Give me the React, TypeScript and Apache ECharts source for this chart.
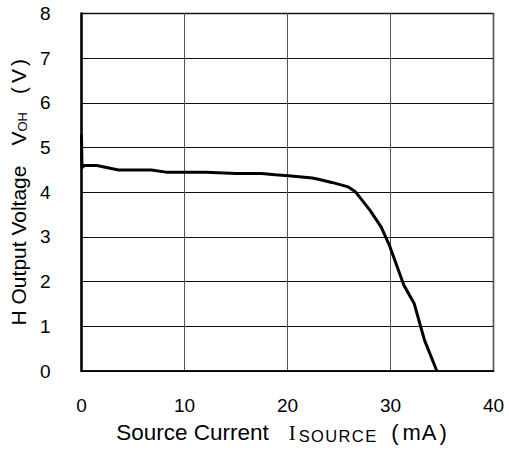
import React, { useEffect, useRef } from "react";
import * as echarts from "echarts";

const sourceCurrent = [0, 0.05, 0.3, 1.5, 3.6, 6.8, 8.2, 12.1, 15, 17.5, 18.8, 20.1, 22.4, 23, 24.3, 25.9, 26.6, 28.0, 29.1, 29.9, 31.3, 32.3, 33.3, 34.5];
const outputVoltage = [5.3, 4.55, 4.6, 4.6, 4.5, 4.5, 4.45, 4.45, 4.42, 4.42, 4.39, 4.37, 4.32, 4.29, 4.22, 4.12, 4.01, 3.6, 3.22, 2.81, 1.92, 1.51, 0.69, 0];
const xTicks = [0, 10, 20, 30, 40];
const yTicks = [0, 1, 2, 3, 4, 5, 6, 7, 8];

const HS = "\u200A";

export default function App() {
  const ref = useRef<HTMLDivElement>(null);
  useEffect(() => {
    if (!ref.current) return;
    const chart = echarts.init(ref.current, null, { renderer: "svg" });
    const font = "Liberation Sans, Arial, sans-serif";
    chart.setOption({
      animation: false,
      backgroundColor: "#fff",
      grid: {
        left: 78,
        right: 15.5,
        top: 13.5,
        bottom: 83,
        show: true,
        borderColor: "#222",
        borderWidth: 1.5,
      },
      xAxis: {
        type: "value",
        min: xTicks[0],
        max: xTicks[xTicks.length - 1],
        interval: 10,
        axisLine: { show: true, lineStyle: { color: "#000", width: 1.5 } },
        axisTick: { show: false },
        splitLine: { show: true, lineStyle: { color: "#555", width: 1 } },
        axisLabel: { color: "#000", fontSize: 19, fontFamily: font, margin: 25 },
        name: `{a|Source Current}{b|I}{c|${["S", "O", "U", "R", "C", "E"].join(HS)}}{p1|(}{m|m}{n|A}{p2|)}`,
        nameLocation: "middle",
        nameGap: 50,
        nameTextStyle: {
          color: "#000",
          fontFamily: font,
          padding: [0, 12, 0, 0],
          rich: {
            a: { fontSize: 22.5, fontFamily: font, color: "#000" },
            b: { fontSize: 21, fontFamily: "Liberation Serif, serif", color: "#000", padding: [0, 0, 0, 20] },
            c: { fontSize: 16.5, fontFamily: font, color: "#000", verticalAlign: "bottom", padding: [0, 0, 0, 3] },
            p1: { fontSize: 22, fontFamily: font, color: "#000", padding: [0, 0, 0, 15] },
            m: { fontSize: 22, fontFamily: font, color: "#000", padding: [0, 0, 0, 4] },
            n: { fontSize: 22, fontFamily: font, color: "#000", padding: [0, 0, 0, 1] },
            p2: { fontSize: 22, fontFamily: font, color: "#000", padding: [0, 0, 0, 3] },
          },
        },
      },
      yAxis: {
        type: "value",
        min: yTicks[0],
        max: yTicks[yTicks.length - 1],
        interval: 1,
        axisLine: { show: true, lineStyle: { color: "#000", width: 2.5 } },
        axisTick: { show: true, inside: true, length: 6, lineStyle: { color: "#000" } },
        splitLine: { show: true, lineStyle: { color: "#111", width: 1 } },
        axisLabel: { color: "#000", fontSize: 19, fontFamily: font, margin: 31 },
        name: "{a|H Output Voltage}{v|V}{c|OH}{p1|(}{w|V}{p2|)}",
        nameLocation: "middle",
        nameGap: 41,
        nameTextStyle: {
          color: "#000",
          fontFamily: font,
          rich: {
            a: { fontSize: 21, fontFamily: font, color: "#000" },
            v: { fontSize: 21, fontFamily: font, color: "#000", padding: [0, 0, 0, 20] },
            c: { fontSize: 13, fontFamily: font, color: "#000", verticalAlign: "bottom" },
            p1: { fontSize: 21, fontFamily: font, color: "#000", padding: [0, 0, 0, 18] },
            w: { fontSize: 21, fontFamily: font, color: "#000", padding: [0, 0, 0, 4] },
            p2: { fontSize: 21, fontFamily: font, color: "#000", padding: [0, 0, 0, 3] },
          },
        },
      },
      series: [
        {
          type: "line",
          data: sourceCurrent.map((x, i) => [x, outputVoltage[i]]),
          showSymbol: false,
          smooth: false,
          lineStyle: { color: "#000", width: 3 },
        },
      ],
    });
    return () => chart.dispose();
  }, []);
  return <div ref={ref} style={{ position: "fixed", left: 0, top: 0, width: 509, height: 454 }} />;
}
